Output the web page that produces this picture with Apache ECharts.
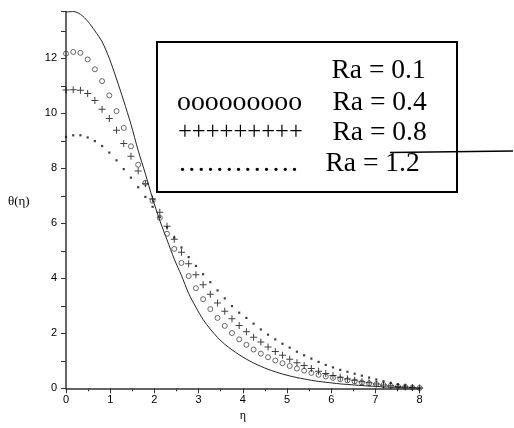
<!DOCTYPE html>
<html>
<head>
<meta charset="utf-8">
<script src="https://cdn.jsdelivr.net/npm/echarts@6/dist/echarts.min.js"></script>
<style>html,body{margin:0;padding:0;background:#fff}#c{width:514px;height:428px}</style>
</head>
<body>
<div id="c"></div>
<script>
// eta sample points (50 points from 0 to 8)
var N = 50;
var eta = [];
for (var i = 0; i < N; i++) eta.push(8 * i / (N - 1));

var xTicks = [0, 1, 2, 3, 4, 5, 6, 7, 8];
var yTicks = [0, 2, 4, 6, 8, 10, 12];

var legendLabels = ['Ra = 0.1', 'Ra = 0.4', 'Ra = 0.8', 'Ra = 1.2'];

var theta01 = [13.68,13.70,13.60,13.35,13.0,12.6,12.0,11.25,10.45,9.6,
  8.65,7.8,6.9,6.1,5.4,4.7,4.1,3.45,2.95,2.5,
  2.15,1.85,1.6,1.4,1.22,1.06,0.92,0.8,0.69,0.6,
  0.52,0.45,0.39,0.34,0.29,0.25,0.22,0.19,0.16,0.14,
  0.12,0.1,0.08,0.07,0.05,0.04,0.03,0.02,0.01,0.0];

var theta04 = [12.17,12.23,12.2,11.96,11.6,11.17,10.65,10.08,9.47,8.8,
  8.13,7.47,6.82,6.2,5.62,5.07,4.56,4.08,3.64,3.24,
  2.88,2.56,2.27,2.01,1.78,1.58,1.41,1.26,1.13,1.01,
  0.91,0.81,0.72,0.64,0.56,0.49,0.43,0.38,0.33,0.29,
  0.25,0.21,0.18,0.15,0.12,0.09,0.07,0.05,0.03,0.01];

var theta08 = [10.85,10.86,10.84,10.72,10.47,10.15,9.81,9.38,8.9,8.44,
  7.9,7.44,6.88,6.4,5.89,5.42,4.95,4.53,4.13,3.77,
  3.42,3.1,2.8,2.53,2.28,2.06,1.86,1.68,1.5,1.34,
  1.2,1.06,0.93,0.83,0.72,0.62,0.54,0.47,0.4,0.34,
  0.29,0.24,0.2,0.16,0.12,0.09,0.07,0.05,0.03,0.01];

var theta12 = [9.14,9.2,9.2,9.12,8.99,8.81,8.57,8.29,7.97,7.66,
  7.31,6.96,6.6,6.22,5.85,5.48,5.12,4.77,4.45,4.15,
  3.86,3.56,3.27,2.99,2.75,2.56,2.35,2.14,1.95,1.78,
  1.62,1.48,1.33,1.2,1.08,0.96,0.85,0.76,0.67,0.6,
  0.53,0.46,0.39,0.32,0.26,0.2,0.14,0.09,0.05,0.01];

function pairs(ys) { return eta.map(function (x, i) { return [x, ys[i]]; }); }

var chart = echarts.init(document.getElementById('c'), null, {renderer: 'canvas'});
var axisCol = '#333';
var tickFont = {fontFamily: 'Liberation Sans', fontSize: 11, color: '#000'};
var serif = '"Liberation Serif", "DejaVu Serif", serif';
var hair = '\u200A';
var dotsText = new Array(14).join('.' + hair).slice(0, -1);

chart.setOption({
  animation: false,
  backgroundColor: '#fff',
  grid: {left: 66, right: 94.4, top: 11.55, bottom: 39.7, containLabel: false},
  xAxis: {
    type: 'value', min: 0, max: 8, interval: 1,
    name: 'η', nameLocation: 'middle', nameGap: 22,
    nameTextStyle: {fontFamily: 'Liberation Serif', fontSize: 12, color: '#000'},
    axisLine: {lineStyle: {color: axisCol, width: 1.5}},
    axisTick: {length: 5, lineStyle: {color: axisCol}},
    minorTick: {show: true, splitNumber: 2, length: 3, lineStyle: {color: axisCol}},
    splitLine: {show: false},
    axisLabel: Object.assign({margin: 6, formatter: function (v) { return xTicks.indexOf(v) >= 0 ? String(v) : ''; }}, tickFont)
  },
  yAxis: {
    type: 'value', min: 0, max: 13.7, interval: 2,
    axisLine: {onZero: false, lineStyle: {color: axisCol, width: 1.5}},
    axisTick: {length: 5, lineStyle: {color: axisCol}},
    minorTick: {show: true, splitNumber: 2, length: 5, lineStyle: {color: axisCol}},
    splitLine: {show: false},
    axisLabel: Object.assign({margin: 9, showMaxLabel: false, formatter: function (v) { return yTicks.indexOf(v) >= 0 ? String(v) : ''; }}, tickFont)
  },
  series: [
    {name: legendLabels[0], type: 'line', data: pairs(theta01), smooth: 0.3, showSymbol: false,
     lineStyle: {color: '#222', width: 1}, z: 2},
    {name: legendLabels[1], type: 'scatter', data: pairs(theta04), symbol: 'circle', symbolSize: 5,
     itemStyle: {color: 'rgba(255,255,255,0)', borderColor: '#444', borderWidth: 1}, z: 3},
    {name: legendLabels[2], type: 'scatter', data: pairs(theta08),
     symbol: 'path://M3,0h1v3h3v1h-3v3h-1v-3h-3v-1h3z', symbolSize: 7,
     itemStyle: {color: '#111'}, z: 4},
    {name: legendLabels[3], type: 'scatter', data: pairs(theta12), symbol: 'rect', symbolSize: 2.2,
     itemStyle: {color: '#111'}, z: 5}
  ],
  graphic: [
    {type: 'text', left: 8, top: 195, style: {text: 'θ(η)', font: '13px ' + serif, fill: '#000'}},
    {type: 'rect', shape: {x: 157, y: 42, width: 300, height: 150},
     style: {fill: '#fff', stroke: '#000', lineWidth: 2}, z: 10},
    {type: 'text', x: 331.5, y: 71, z: 11, style: {text: legendLabels[0], font: '27.5px ' + serif, fill: '#000', verticalAlign: 'middle'}},
    {type: 'text', x: 177, y: 102.7, z: 11, style: {text: 'ooooooooo', font: '27.8px ' + serif, fill: '#000', verticalAlign: 'middle'}},
    {type: 'text', x: 332.5, y: 102.7, z: 11, style: {text: legendLabels[1], font: '27.5px ' + serif, fill: '#000', verticalAlign: 'middle'}},
    {type: 'text', x: 178, y: 132.7, z: 11, style: {text: '+++++++++', font: '24.6px ' + serif, fill: '#000', verticalAlign: 'middle'}},
    {type: 'text', x: 332.5, y: 132.7, z: 11, style: {text: legendLabels[2], font: '27.5px ' + serif, fill: '#000', verticalAlign: 'middle'}},
    {type: 'text', x: 179, y: 164, z: 11, style: {text: dotsText, font: '28px ' + serif, fill: '#000', verticalAlign: 'middle'}},
    {type: 'text', x: 325.5, y: 164, z: 11, style: {text: legendLabels[3], font: '27.5px ' + serif, fill: '#000', verticalAlign: 'middle'}},
    {type: 'line', shape: {x1: 390, y1: 152.5, x2: 513, y2: 151}, style: {stroke: '#000', lineWidth: 1.5}, z: 12}
  ]
});
</script>
</body>
</html>
